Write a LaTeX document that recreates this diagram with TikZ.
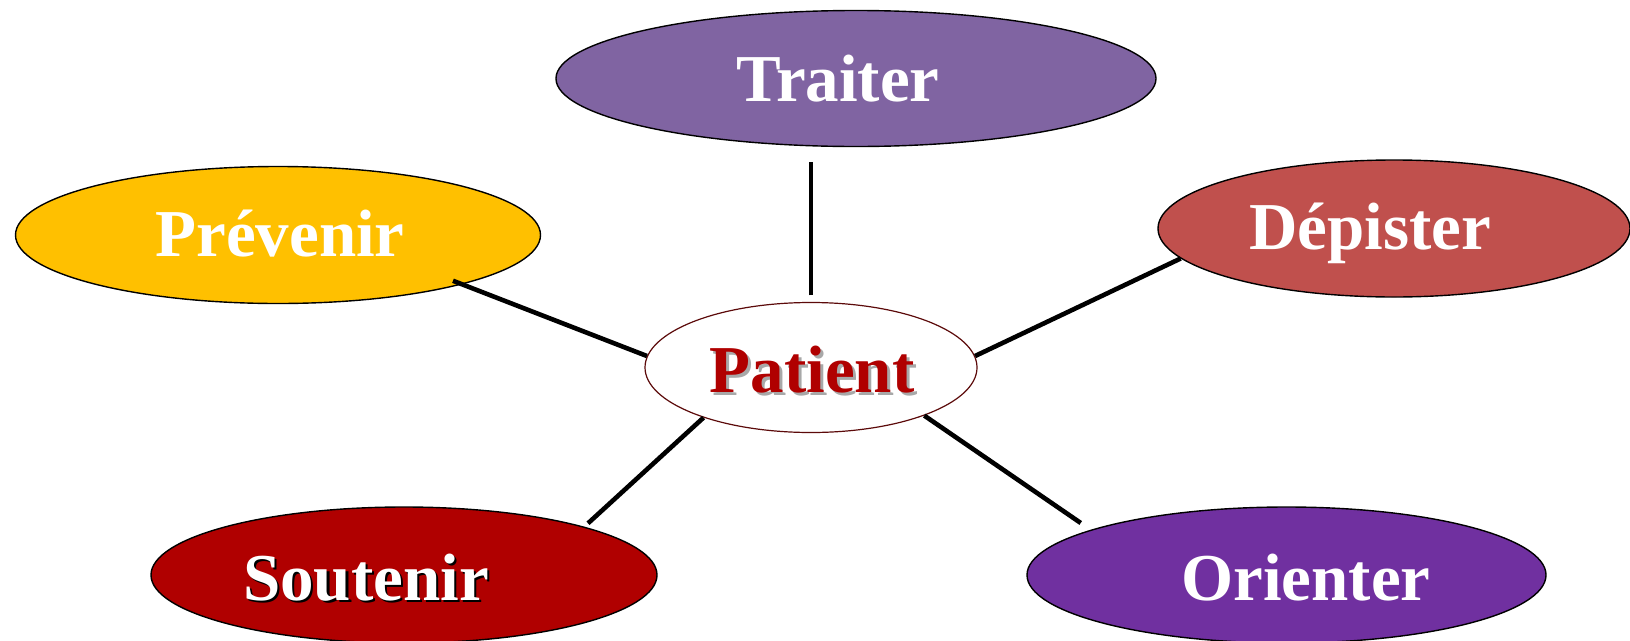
\documentclass[tikz,border=0pt]{standalone}
\usepackage{fontspec}
\setmainfont{Liberation Serif}
\usetikzlibrary{shapes.geometric}
\definecolor{traitc}{HTML}{8064A2}
\definecolor{prevc}{HTML}{FFC000}
\definecolor{depc}{HTML}{C0504D}
\definecolor{soutc}{HTML}{B00000}
\definecolor{orientc}{HTML}{7030A0}
\definecolor{patedge}{HTML}{5C0A0A}
\definecolor{pattext}{HTML}{B00000}
\definecolor{patshade}{HTML}{A8A8A8}
\begin{document}
\begin{tikzpicture}[x=1pt,y=-1pt,
  bubble/.style={ellipse, draw=black, line width=1.4pt, inner sep=0pt},
  word/.style={anchor=base, text=white, inner sep=0pt,
    font=\fontsize{67}{70}\selectfont\bfseries},
  link/.style={line width=4.6pt}]
\useasboundingbox (0,0) rectangle (1630,640);

% outer ellipses
\node[bubble, fill=traitc, minimum width=600pt, minimum height=136pt] (trait) at (856,78.5) {};
\node[bubble, fill=prevc, minimum width=525pt, minimum height=137pt] (prev) at (278,235) {};
\node[bubble, fill=depc, minimum width=472pt, minimum height=137pt] (dep) at (1394,228.5) {};
\node[bubble, fill=soutc, minimum width=506pt, minimum height=136pt] (sout) at (404,575) {};
\node[bubble, fill=orientc, minimum width=519pt, minimum height=136pt] (orient) at (1286.5,575) {};

% central ellipse
\node[ellipse, draw=patedge, fill=white, line width=1.2pt, inner sep=0pt,
  minimum width=332pt, minimum height=130pt] (pat) at (811,367.5) {};

% connectors
\draw[link, shorten <=6.5pt, shorten >=14.5pt] (pat.north) -- (pat.north |- trait.south);
\draw[link, shorten >=-10pt] (pat.176) -- (prev.-15.4);
\draw[link] (pat.4) -- (dep.188);
\draw[link, shorten >=5pt] (pat.205.5) -- (sout.15.5);
\draw[link, shorten >=12pt] (pat.337) -- (orient.167);

% labels
\node[word] (traitlbl) at (838,101) {Traiter};
\node[word] (prevlbl) at (280,256) {Prévenir};
\node[word] (deplbl) at (1370,249.5) {Dépister};
\node[word, text=black] (soutshadow) at (368.5,602.5) {Soutenir};
\node[word] (soutlbl) at (366,600) {Soutenir};
\node[word] (orientlbl) at (1306,600) {Orienter};
\node[word, text=patshade] (patshadow) at (815,395.5) {Patient};
\node[word, text=pattext] (patlbl) at (812,392) {Patient};
\end{tikzpicture}
\end{document}
